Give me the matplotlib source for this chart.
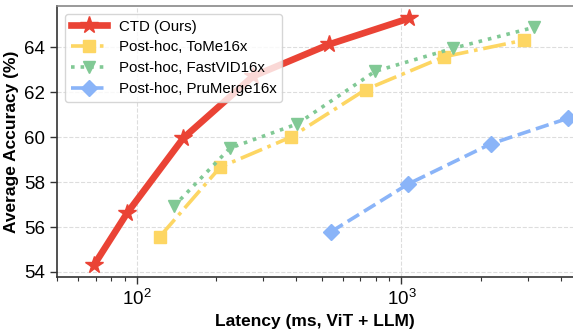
import matplotlib
matplotlib.use("Agg")
import matplotlib.pyplot as plt
from matplotlib.ticker import LogLocator, NullFormatter

plt.rcParams['font.family'] = ['Liberation Sans', 'DejaVu Sans']

ctd_lat = [69, 92, 150, 275, 533, 1068]
ctd_acc = [54.31, 56.62, 59.96, 62.71, 64.13, 65.29]

tome_lat = [122, 207, 382, 733, 1449, 2905]
tome_acc = [55.56, 58.67, 60.0, 62.12, 63.58, 64.32]

fastvid_lat = [138, 225, 404, 795, 1571, 3170]
fastvid_acc = [56.92, 59.51, 60.59, 62.93, 63.96, 64.89]

prumerge_lat = [544, 1063, 2174, 4256]
prumerge_acc = [55.80, 57.92, 59.70, 60.84]

labels = ["CTD (Ours)", "Post-hoc, ToMe16x", "Post-hoc, FastVID16x", "Post-hoc, PruMerge16x"]
yticks = [54, 56, 58, 60, 62, 64]

fig = plt.figure(figsize=(5.73, 3.34), dpi=100)
ax = fig.add_axes([0.0995, 0.171, 0.9005, 0.811])

ax.plot(ctd_lat, ctd_acc, color='#EA4335', lw=4.8, marker='*', ms=13,
        label=labels[0], zorder=5, clip_on=False)
ax.plot(tome_lat, tome_acc, color='#FDD663', lw=2.6, ls='-.', marker='s', ms=8,
        label=labels[1], zorder=4, clip_on=False)
ax.plot(fastvid_lat, fastvid_acc, color='#81C995', lw=2.6, ls=':', marker='v', ms=9,
        label=labels[2], zorder=4, clip_on=False)
ax.plot(prumerge_lat, prumerge_acc, color='#8AB4F8', lw=2.6, ls='--', marker='D', ms=8,
        label=labels[3], zorder=4, clip_on=False)

ax.set_xscale('log')
ax.set_xlim(50, 4450)
ax.set_ylim(53.78, 65.84)
ax.set_yticks(yticks)
ax.xaxis.set_minor_locator(LogLocator(base=10, subs=range(2, 10)))
ax.xaxis.set_minor_formatter(NullFormatter())

ax.grid(True, which='major', ls='--', color='#dddddd', lw=0.8)
ax.set_axisbelow(True)

for s in ['left', 'bottom']:
    ax.spines[s].set_color('#333333')
    ax.spines[s].set_linewidth(1.2)
ax.spines['top'].set_color('#888888')
ax.spines['top'].set_linewidth(1.2)
ax.spines['right'].set_visible(False)

ax.tick_params(axis='both', which='major', labelsize=13.5, length=5, width=1, color='#333333')
ax.tick_params(axis='x', which='minor', length=3, width=0.8, color='#333333')

ax.set_xlabel('Latency (ms, ViT + LLM)', fontsize=12.5, fontweight='bold', labelpad=4)
ax.set_ylabel('Average Accuracy (%)', fontsize=12.5, fontweight='bold', labelpad=4)

leg = ax.legend(loc='upper left', fontsize=10.8, handlelength=2.4, frameon=True,
                borderaxespad=0.5, labelspacing=0.45)
leg.get_frame().set_edgecolor('#cccccc')

fig.savefig('out.png', dpi=100)
